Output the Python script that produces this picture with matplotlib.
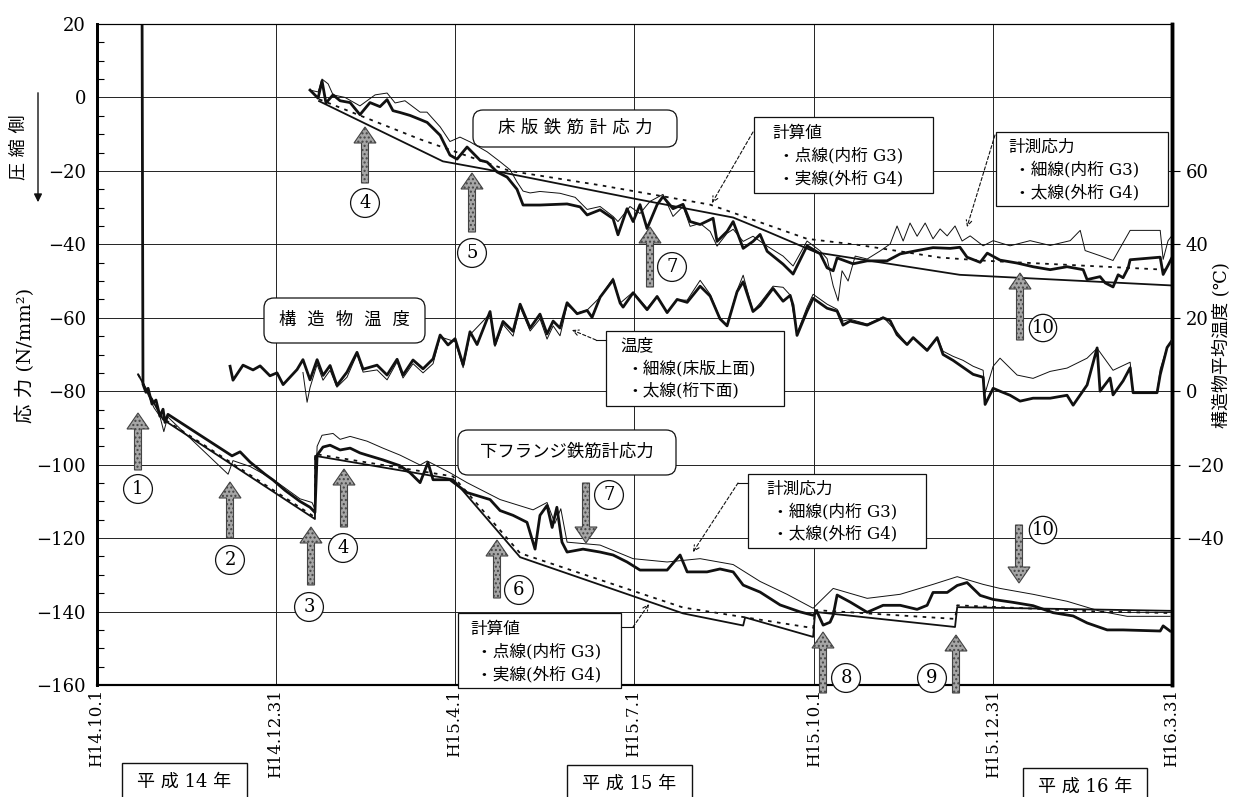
import numpy as np
import matplotlib
matplotlib.use("Agg")
from matplotlib import pyplot as plt
from matplotlib.patches import FancyArrow, FancyBboxPatch, Rectangle
from matplotlib.transforms import Affine2D

plt.rcParams['font.family'] = ['DejaVu Serif', 'Noto Sans CJK JP']
plt.rcParams['axes.unicode_minus'] = True

#-------------------------------------------------------------------
# data : x = days from H14.10.1, y = stress (N/mm2) or temperature (C)

tick_days = [0, 91, 182, 273, 365, 456, 547]
tick_labels = ['H14.10.1', 'H14.12.31', 'H15.4.1', 'H15.7.1', 'H15.10.1', 'H15.12.31', 'H16.3.31']

# lower flange, measured (G4 thick / G3 thin)
lf_g4 = np.array([
    (22.9, 30), (23.4, -78.1), (24.9, -80.3), (26, -79.2), (28, -83.5), (30, -82.4), (32, -86.8),
    (33.6, -84.9), (34.6, -88.5), (36.1, -86.3), (68.7, -97.6), (72.8, -96.5), (77.9, -99.3),
    (85.5, -102.6), (89.6, -104.2), (95.7, -107.0), (103.3, -110.0), (108.4, -111.6), (110.9, -113.0),
    (112, -97.4), (115, -95.2), (118.6, -94.7), (123.7, -96.0), (128.8, -95.5), (133.8, -96.8),
    (137.4, -97.4), (145.5, -98.7), (154.2, -100.3), (159.3, -102.2), (164.4, -104.9), (168.4, -99.4),
    (171, -104.1), (179.6, -104.1), (188.3, -107.6), (200, -109.5), (205.1, -112.5), (211.7, -113.8),
    (218.8, -115.7), (222.9, -123.0), (225.4, -113.8), (229, -111.1), (231.6, -117.1), (234, -111.6),
    (236.6, -121.1), (239.2, -123.8), (247.3, -123.0), (256, -123.8), (262.6, -124.6), (269.7, -126.5),
    (276.3, -128.7), (290.1, -128.7), (296.7, -124.6), (300.3, -129.2), (310.4, -129.2), (317, -128.4),
    (323.7, -129.2), (328.8, -132.8), (337.4, -134.7), (347.6, -138.2), (357.8, -140.1), (364.4, -141.0),
    (366.4, -140.1), (369.5, -143.7), (373, -142.9), (374.6, -141.0), (376.6, -135.5), (383.2, -137.4),
    (391.9, -140.2), (400, -138.3), (408.7, -138.3), (417.3, -139.4), (422.4, -138.3), (425.4, -134.8),
    (432.6, -134.8), (437.7, -132.9), (442.7, -132.1), (449.4, -135.6), (456, -136.7), (466.2, -137.5),
    (476.3, -138.4), (486.5, -140.3), (496.7, -141.2), (503.8, -143.1), (514, -145.0), (522.1, -145.0),
    (541, -145.3), (542.5, -143.9), (546, -145.3)])

lf_g3 = np.array([
    (22.9, 30), (23.4, -78), (26, -81), (29, -84.5), (32, -86.8), (34, -91), (36, -87),
    (66.7, -102.6), (69.2, -98.9), (77.9, -100.5), (89.6, -104.0), (103.3, -109.3), (109.4, -110.3),
    (111, -112.2), (112, -95.0), (114.5, -92.0), (120.1, -91.5), (123.7, -93.1), (128.8, -92.3),
    (137.4, -93.6), (145.5, -95.5), (154.2, -97.4), (164.4, -100.1), (168, -99.0), (179.6, -102.2),
    (188.3, -104.9), (205.1, -109.5), (221.9, -112.3), (229, -110.3), (233, -116), (236, -112),
    (239.2, -121.1), (256, -121.9), (272.8, -125.6), (290.1, -126.5), (306.9, -125.6), (323.7, -127.2),
    (337.4, -131.8), (351.1, -135.3), (364.4, -139.1), (366.4, -138.0), (374.6, -133.7), (391.9, -136.4),
    (408.7, -135.3), (425.4, -132.6), (437.7, -130.5), (450.9, -132.6), (459.5, -133.7), (476.3, -135.3),
    (493.6, -137.2), (510.4, -139.9), (524.2, -141.3), (546, -141.3)])

# lower flange, calculated (G4 solid / G3 dotted)
lf_calc_g4 = np.array([
    (20.9, -75.4), (33.6, -87.7), (110.9, -114.8), (111, -97.6), (181.2, -104.0), (215.3, -125.2),
    (298.2, -140.5), (328.8, -143.8), (329.8, -141.6), (364.4, -146.9), (365.4, -140.1),
    (436.6, -144.2), (437.7, -138.8), (546, -139.8)])
lf_calc_g3 = np.array([
    (20.9, -75.4), (33.6, -87.4), (110.9, -114.3), (111, -97.1), (181.2, -103.2), (215.3, -124.1),
    (298.2, -138.9), (364.4, -144.5), (365.4, -139.6), (436.6, -142.0), (437.7, -138.3),
    (510, -140.0), (546, -140.4)])

# deck slab, measured
dk_g4 = np.array([
    (108.4, 2.0), (112.5, -0.2), (114.5, 4.5), (116.5, -1.5), (120.1, 0.7), (123.7, -0.9), (128.8, -1.4),
    (133.8, -4.7), (138.9, -1.4), (144, -2.5), (147.6, -0.6), (150.6, -3.6), (154.2, -4.1), (159.3, -4.9),
    (164.4, -6.0), (168, -6.8), (174.6, -10.3), (179.6, -15.7), (183.2, -16.8), (188.3, -13.5),
    (194.9, -17.1), (198.5, -17.6), (203.6, -20.3), (208.7, -21.7), (213.7, -25.0), (216.8, -29.3),
    (225.4, -29.3), (239.2, -29.0), (245.8, -29.8), (249.4, -32.0), (256, -30.6), (262.6, -33.0),
    (265.1, -37.4), (269.7, -30.3), (272.8, -33.8), (276.3, -29.2), (279.9, -35.7), (285, -29.2),
    (288, -27.0), (293.1, -30.3), (298.2, -29.1), (301.8, -33.8), (306.9, -34.6), (313.5, -32.9),
    (315.5, -39.2), (320.6, -36.5), (323.7, -33.8), (328.8, -41.1), (333.8, -39.2), (337.4, -37.3),
    (341, -41.9), (349.1, -45.4), (354.2, -48.1), (361.3, -40.4), (368, -42.6), (371.5, -46.4),
    (374.6, -47.2), (376.6, -43.7), (384.7, -45.3), (391.9, -44.5), (402, -44.5), (408.7, -42.6),
    (417.3, -41.7), (425.4, -40.9), (434.1, -41.1), (439.1, -40.8), (442.7, -43.5), (449.4, -44.9),
    (453, -42.4), (459.5, -44.3), (468.2, -45.1), (476.3, -46.1), (485, -46.9), (493.6, -46.1),
    (501.8, -46.9), (503.8, -49.6), (510.4, -48.8), (513, -50.5), (517, -51.6), (519.6, -48.3),
    (522.1, -49.1), (524.7, -46.4), (525.7, -44.2), (541, -43.5), (542.5, -48.2), (545, -45.7),
    (547, -43.6)])

dk_g3 = np.array([
    (108.4, 2.0), (112.5, 1.5), (114.5, 5.0), (117.6, 3.7), (120.1, 0.7), (126.2, 0.0), (133.8, -2.3),
    (141.5, 0.7), (147.6, 1.2), (151.7, -1.5), (156.7, -0.9), (164.4, -4.0), (167.9, -4.0), (174.6, -8.0),
    (179.6, -12.0), (184.7, -10.8), (189.8, -12.1), (198.5, -14.8), (205.1, -17.5), (210.2, -19.7),
    (213.7, -23.0), (216.8, -25.5), (220.4, -26.0), (225.4, -25.6), (235.6, -26.1), (243.3, -27.2),
    (249.4, -30.5), (256, -29.7), (262.6, -32.4), (265.1, -33.8), (271.2, -29.7), (276.3, -31.6),
    (281.4, -28.3), (288, -26.4), (293.1, -32.4), (298.2, -29.7), (301.8, -35.1), (306.9, -34.3),
    (312, -36.5), (315.5, -40.5), (320.6, -37.0), (323.7, -35.9), (328.8, -39.2), (333.8, -37.8),
    (341, -40.5), (349.1, -43.2), (354.2, -45.9), (361.3, -39.1), (368, -41.8), (371.5, -43.9),
    (374.6, -51.3), (377.1, -55.4), (379.1, -47.2), (382.2, -50.0), (385.8, -43.2), (391.9, -44.0),
    (398.5, -41.8), (403.6, -39.9), (407.1, -35.0), (410.2, -39.1), (413.7, -34.2), (417.3, -37.8),
    (421.4, -34.2), (425.4, -38.5), (429, -35.8), (432.6, -37.7), (436.6, -35.0), (440.2, -39.1),
    (444.3, -37.7), (450.9, -40.4), (456, -39.0), (464.6, -40.4), (474.8, -39.0), (485, -40.3),
    (495.2, -39.0), (500.3, -36.2), (502.8, -41.7), (510.4, -43.1), (517, -44.4), (520.6, -41.0),
    (525.7, -36.2), (541, -36.2), (542.5, -44.1), (545, -39.0), (547, -37.6)])

# deck slab, calculated
dk_calc_g4 = np.array([(113, -1.0), (176, -17.4), (198.5, -19.6), (272.8, -27.5), (323.7, -32.7),
                       (341, -36.5), (366, -42.2), (439, -48.3), (547, -51.2)])
dk_calc_g3 = np.array([(113, -0.5), (164.4, -11.4), (210, -20.0), (256, -23.9), (312, -29.2),
                       (361.3, -38.5), (388, -40.2), (429, -43.6), (453, -44.5), (547, -47.0)])

# temperature (right axis): girder bottom (thick) / slab top (thin)
temp_bottom = np.array([
    (67.7, 6.8), (69.2, 3.0), (74.3, 7.1), (79.4, 5.8), (83, 6.9), (88, 4.2), (91.6, 5.0), (94.7, 1.8),
    (101.8, 5.9), (104.8, 8.6), (108.4, 3.1), (112, 8.6), (115, 4.3), (118.6, 7.0), (122.1, 1.6),
    (127.2, 5.2), (132.3, 10.6), (135.4, 6.0), (142.5, 7.1), (147.6, 4.4), (152.7, 8.7), (155.7, 4.4),
    (160.8, 8.5), (165.9, 6.1), (171, 8.8), (174.6, 15.3), (178.6, 12.6), (182.2, 14.3), (186.3, 7.2),
    (189.8, 16.2), (193.4, 12.7), (200, 21.7), (202.5, 12.7), (206.6, 19.0), (211.7, 16.3), (215.3, 23.7),
    (220.4, 17.2), (225.4, 21.0), (229, 15.6), (232.1, 19.1), (235.6, 17.2), (239.2, 24.1), (244.3, 21.1),
    (249.4, 22.0), (251.9, 20.1), (256, 25.6), (262.6, 30.3), (266.2, 24.0), (267.7, 22.9), (272.8, 26.8),
    (279.9, 22.2), (285, 25.8), (290.1, 21.4), (295.2, 25.0), (300.3, 24.2), (306.9, 28.6), (312, 25.9),
    (317, 19.7), (320.6, 17.8), (325.7, 27.1), (328.8, 29.8), (333.8, 21.7), (337.4, 23.3), (344, 28.0),
    (349.1, 24.5), (352.7, 26.1), (354.2, 23.4), (356.2, 15.2), (361.3, 21.8), (364.4, 25.3),
    (371.5, 22.6), (376.6, 21.8), (379.6, 18.0), (383.2, 19.1), (391.9, 18.0), (400, 20.0), (403.6, 19.2),
    (407.1, 15.4), (412.2, 12.7), (415.3, 14.6), (422.4, 11.1), (427.5, 14.6), (430.5, 10.0),
    (435.6, 8.4), (440.7, 6.5), (445.8, 4.6), (450.9, 3.8), (451.9, -3.6), (456, 0.8), (459.5, 0.0),
    (464.6, -1.1), (469.7, -2.7), (476.3, -1.9), (485, -1.9), (493.6, -1.1), (496.7, -3.8), (503.8, 1.7),
    (508.9, 11.8), (510.4, 0.0), (515.5, 3.6), (517, -1.0), (522.1, 2.8), (525.7, 6.4), (527.2, -0.4),
    (539.4, -0.4), (541, 4.5), (544.5, 11.9), (547, 13.8)])

temp_top = np.array([
    (104.8, 5.1), (106.9, -3.0), (108.4, 1.0), (112, 7.3), (115, 3.0), (118.6, 5.7), (122.1, 1.1),
    (127.2, 3.8), (132.3, 10.1), (135.4, 5.2), (142.5, 5.8), (147.6, 3.1), (152.7, 8.0), (155.7, 3.6),
    (160.8, 7.5), (165.9, 5.0), (171, 7.5), (174.6, 14.8), (182.2, 13.5), (186.3, 6.4), (189.8, 15.4),
    (200, 21.1), (202.5, 12.2), (206.6, 18.2), (211.7, 15.0), (215.3, 22.9), (220.4, 16.4), (225.4, 19.7),
    (229, 14.2), (232.1, 17.8), (235.6, 15.1), (237.2, 18.7), (239.2, 23.5), (244.3, 21.3), (249.4, 22.1),
    (256, 25.6), (262.6, 30.8), (266.2, 24.0), (272.8, 27.0), (279.9, 22.6), (285, 25.9), (290.1, 21.5),
    (295.2, 24.8), (300.3, 24.8), (306.9, 30.2), (312, 26.4), (317, 19.9), (320.6, 18.0), (325.7, 27.5),
    (328.8, 31.6), (333.8, 21.8), (337.4, 24.0), (344, 28.6), (349.1, 28.3), (352.7, 26.2), (356.2, 15.8),
    (361.3, 22.9), (364.4, 26.4), (371.5, 23.7), (376.6, 22.3), (379.6, 19.1), (383.2, 19.6),
    (391.9, 18.3), (400, 20.2), (407.1, 16.1), (412.2, 12.8), (415.3, 14.7), (422.4, 11.4), (427.5, 14.7),
    (430.5, 10.9), (435.6, 9.5), (440.7, 8.4), (445.8, 6.8), (450.9, 5.7), (451.9, -0.5), (456, 6.8),
    (459.5, 9.0), (468.2, 4.4), (476.3, 3.5), (485, 5.4), (493.6, 6.3), (503.8, 9.0), (508.9, 11.7),
    (517, 5.7), (525.7, 7.9), (527.2, -0.3), (539.4, -0.3), (541, 6.0), (544.5, 12.0), (547, 13.9)])

#--------------------------------------------------------------------
# figure / axes
W, H = 1238, 797
fig = plt.figure(figsize=(W / 100, H / 100), dpi=100)
ax = fig.add_axes([97 / W, 1 - 685 / H, 1075 / W, 661 / H])
ax2 = ax.twinx()
# pixel transform (origin top-left) for the annotations
PX = Affine2D().scale(1 / 100., -1 / 100.).translate(0, H / 100.) + fig.dpi_scale_trans

ink = '#111111'
thin = dict(color=ink, lw=0.7, zorder=3)
thick = dict(color=ink, lw=2.0, zorder=4)
solid = dict(color=ink, lw=1.3, zorder=2)
dotted = dict(color=ink, lw=1.3, ls=(0, (2, 3)), zorder=2)

for d, st in [(lf_calc_g3, dotted), (lf_calc_g4, solid), (dk_calc_g3, dotted), (dk_calc_g4, solid),
              (lf_g3, thin), (lf_g4, thick), (dk_g3, thin), (dk_g4, thick)]:
    ax.plot(d[:, 0], d[:, 1], **st)
ax2.plot(temp_top[:, 0], temp_top[:, 1], **thin)
ax2.plot(temp_bottom[:, 0], temp_bottom[:, 1], **thick)

ax.set_xlim(0, 547)
ax.set_ylim(-160, 20)
ax2.set_ylim(-80, 100)

ax.set_xticks(tick_days)
ax.set_xticklabels(tick_labels, rotation=90, fontsize=12)
ax.set_yticks(np.arange(-160, 21, 20))
ax.set_yticks(np.arange(-160, 21, 5), minor=True)
ax.tick_params(axis='x', length=0, pad=3)
ax.tick_params(axis='y', which='major', length=0, pad=8, labelsize=13)
ax.tick_params(axis='y', which='minor', direction='in', length=5, width=0.8)
ax.grid(True, which='major', color='#222222', lw=0.7)

ax2.set_yticks(np.arange(-40, 61, 20))
ax2.tick_params(axis='y', direction='out', length=6, width=0.8, pad=4, labelsize=13)

for a in (ax, ax2):
    a.spines['left'].set_linewidth(2.0)
    a.spines['right'].set_linewidth(2.5)
    a.spines['bottom'].set_linewidth(1.5)
    a.spines['top'].set_linewidth(0.8)

# axis titles
fig.text(25, 355, '応 力 (N/mm²)', transform=PX, rotation=90, ha='center', va='center', fontsize=14)
fig.text(18, 147, '圧 縮 側', transform=PX, rotation=90, ha='center', va='center', fontsize=13)
ax.annotate('', xy=(38, 205), xytext=(38, 90), xycoords=PX, textcoords=PX,
            arrowprops=dict(arrowstyle='-|>', lw=1.0, color=ink, mutation_scale=12), annotation_clip=False)
fig.text(1222, 345, '構造物平均温度 (℃)', transform=PX, rotation=90, ha='center', va='center', fontsize=13)

# gray arrows with circled numbers
arrows = [(138, 470, 413), (230, 538, 482), (311, 585, 527), (344, 527, 469), (365, 183, 127),
          (472, 232, 173), (650, 287, 227), (497, 598, 540), (586, 483, 543), (823, 693, 632),
          (956, 693, 635), (1019, 525, 583), (1020, 340, 273)]
for x, y0, y1 in arrows:
    fig.add_artist(FancyArrow(x, y0, 0, y1 - y0, width=7, head_width=22, head_length=16,
                              length_includes_head=True, transform=PX, fc='#a6a6a6', ec='#444444',
                              lw=0.8, hatch='....', zorder=6, clip_on=False))

circles = [('1', 138, 489), ('2', 230, 560), ('3', 309, 607), ('4', 343, 548), ('4', 365, 203),
           ('5', 472, 253), ('6', 519, 590), ('7', 672, 267), ('7', 609, 495), ('8', 846, 678),
           ('9', 932, 678), ('10', 1043, 530), ('10', 1043, 328)]
for s, x, y in circles:
    fig.text(x, y, s, transform=PX, ha='center', va='center', fontsize=13, zorder=7,
             bbox=dict(boxstyle='circle,pad=0.3' if len(s) == 1 else 'circle,pad=0.12',
                       fc='white', ec=ink, lw=0.9))

# rounded title boxes
def rbox(x0, y0, x1, y1, label, size):
    fig.add_artist(FancyBboxPatch((x0, y0), x1 - x0, y1 - y0, boxstyle='round,pad=0,rounding_size=10',
                                  transform=PX, fc='white', ec=ink, lw=0.9, zorder=6))
    fig.text((x0 + x1) / 2, (y0 + y1) / 2, label, transform=PX, ha='center', va='center',
             fontsize=size, zorder=7)

rbox(473, 110, 677, 147, '床 版 鉄 筋 計 応 力', 12.5)
rbox(264, 298, 425, 343, '構  造  物  温  度', 12.5)
rbox(458, 430, 676, 475, '下フランジ鉄筋計応力', 12.5)

# square legend boxes
def sbox(x0, y0, x1, y1, lines, tx, ty, dy):
    fig.add_artist(Rectangle((x0, y0), x1 - x0, y1 - y0, transform=PX, fc='white', ec=ink,
                             lw=0.9, zorder=6, clip_on=False))
    for i, s in enumerate(lines):
        fig.text(tx + (0 if i == 0 else 6), ty + i * dy, s, transform=PX, ha='left', va='center',
                 fontsize=12, zorder=7)

calc_lines = ['計算値', '・点線(内桁 G3)', '・実線(外桁 G4)']
meas_lines = ['計測応力', '・細線(内桁 G3)', '・太線(外桁 G4)']
temp_lines = ['温度', '・細線(床版上面)', '・太線(桁下面)']
sbox(754, 117, 933, 193, calc_lines, 772, 133, 23)
sbox(996, 132, 1168, 206, meas_lines, 1008, 147, 23)
sbox(606, 331, 784, 406, temp_lines, 620, 346, 22.5)
sbox(458, 613, 621, 688, calc_lines, 470, 629, 23)
sbox(748, 474, 926, 548, meas_lines, 766, 489, 22.5)

# dashed leader arrows
leaders = [((753, 132), (712, 203)), ((995, 135), (967, 227)), ((596, 340), (572, 330)),
           ((738, 483), (693, 552)), ((633, 627), (649, 604))]
for (xa, ya), (xb, yb) in leaders:
    ax.annotate('', xy=(xb, yb), xytext=(xa, ya), xycoords=PX, textcoords=PX, annotation_clip=False,
                arrowprops=dict(arrowstyle='->', lw=0.8, ls=(0, (3, 2)), color=ink, shrinkA=0, shrinkB=0))
for (xa, ya), (xb, yb) in [((606, 340), (596, 340)), ((748, 483), (738, 483)), ((621, 627), (633, 627))]:
    fig.add_artist(plt.Line2D([xa, xb], [ya, yb], transform=PX, color=ink, lw=0.8, zorder=6))

# year boxes
for x0, x1, y0, s in [(122, 247, 763, '平 成 14 年'), (567, 692, 765, '平 成 15 年'),
                      (1023, 1147, 768, '平 成 16 年')]:
    fig.add_artist(Rectangle((x0, y0), x1 - x0, 810 - y0, transform=PX, fc='white', ec=ink,
                             lw=1.0, zorder=6, clip_on=False))
    fig.text((x0 + x1) / 2, y0 + 19, s, transform=PX, ha='center', va='center', fontsize=13, zorder=7)

fig.savefig('out.png', dpi=100)
